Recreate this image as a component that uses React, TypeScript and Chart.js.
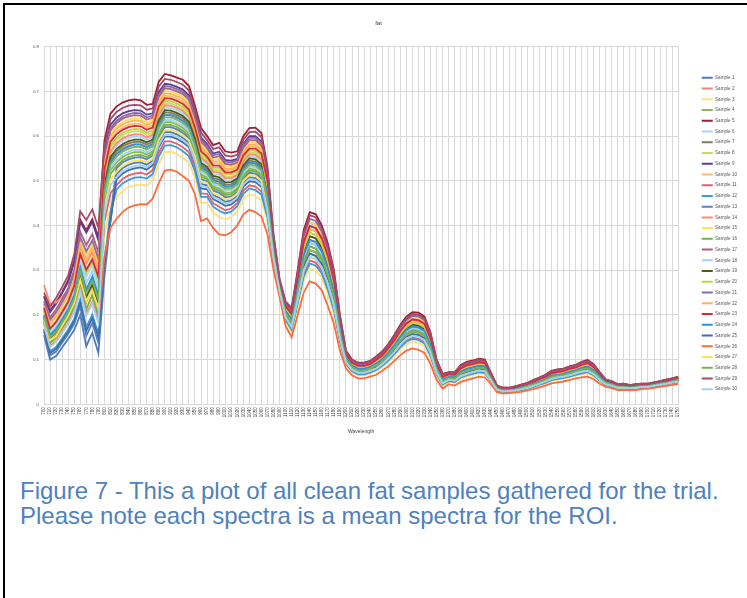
import React, { useEffect, useRef } from 'react';
import { Chart, registerables } from 'chart.js';

Chart.register(...registerables);

const chartTitle = 'fat';
const xAxisTitle = 'Wavelength';
const captionLines = [
  'Figure 7 - This a plot of all clean fat samples gathered for the trial.',
  'Please note each spectra is a mean spectra for the ROI.',
];

const wavelengths = [
  '700','710','720','730','740','750','760','770','780','790',
  '800','810','820','830','840','850','860','870','880','890',
  '900','910','920','930','940','950','960','970','980','990',
  '1000','1010','1020','1030','1040','1050','1060','1070','1080','1090',
  '1100','1110','1120','1130','1140','1150','1160','1170','1180','1190',
  '1200','1210','1220','1230','1240','1250','1260','1270','1280','1290',
  '1300','1310','1320','1330','1340','1350','1360','1370','1380','1390',
  '1400','1410','1420','1430','1440','1450','1460','1470','1480','1490',
  '1500','1510','1520','1530','1540','1550','1560','1570','1580','1590',
  '1600','1610','1620','1630','1640','1650','1660','1670','1680','1690',
  '1700','1710','1720','1730','1740','1750',
];

const yMin = 0;
const yMax = 0.8;
const yStep = 0.1;

const sample1 = [.155,.100,.108,.127,.146,.166,.200,.130,.160,.115,
  .285,.41,.515,.528,.536,.540,.541,.536,.545,.586,.609,.609,.604,.596,.585,.549,.493,.490,.468,.462,.453,.456,.466,.495,.508,.506,.495,
  .448,.336,.258,.200,.180,.245,.313,.345,.340,.321,.283,.234,.156,.098,.081,.074,.074,.078,.085,.095,.108,.123,.141,.154,.162,.160,.152,.122,.076,.050,.058,.056,.067,.073,.076,.080,.078,.057,.034,.030,.031,.033,.035,.039,.043,.048,.053,.060,.063,.065,.068,.072,.076,.079,.072,.058,.047,.043,.038,.039,.037,.038,.040,.040,.043,.045,.048,.050,.053];
const sample2 = [.212,.171,.186,.208,.231,.267,.339,.299,.326,.283,
  .481,.543,.561,.572,.579,.582,.582,.576,.582,.626,.648,.647,.642,.635,.622,.584,.530,.521,.501,.498,.486,.487,.495,.525,.540,.538,.527,
  .470,.348,.264,.208,.189,.260,.334,.368,.363,.342,.304,.252,.168,.104,.086,.079,.079,.083,.091,.101,.115,.132,.151,.166,.174,.172,.164,.132,.082,.055,.061,.060,.073,.079,.082,.086,.084,.060,.036,.032,.032,.034,.038,.041,.046,.051,.056,.064,.066,.068,.073,.076,.081,.084,.076,.062,.049,.046,.040,.040,.038,.040,.041,.042,.044,.047,.049,.052,.055];
const sample3 = [.184,.135,.147,.168,.189,.217,.270,.215,.243,.199,
  .379,.443,.463,.477,.486,.490,.492,.489,.500,.538,.564,.565,.560,.551,.540,.508,.450,.451,.429,.419,.414,.419,.432,.458,.470,.466,.456,
  .409,.315,.248,.185,.162,.219,.277,.304,.299,.283,.247,.203,.135,.088,.072,.065,.065,.069,.074,.083,.095,.108,.123,.134,.140,.138,.130,.103,.064,.041,.050,.048,.057,.062,.066,.070,.068,.050,.030,.026,.027,.029,.031,.034,.038,.042,.047,.052,.055,.057,.060,.064,.067,.069,.062,.051,.042,.039,.034,.035,.033,.034,.036,.037,.039,.041,.044,.046,.048];
const sample4 = [.193,.147,.160,.181,.203,.234,.293,.243,.270,.227,
  .460,.523,.541,.553,.560,.564,.564,.559,.566,.609,.631,.631,.626,.618,.606,.569,.514,.508,.487,.483,.472,.474,.483,.513,.527,.525,.514,
  .448,.336,.258,.200,.180,.245,.313,.345,.340,.321,.283,.234,.156,.098,.081,.074,.074,.078,.085,.095,.108,.123,.141,.154,.162,.160,.152,.122,.076,.050,.058,.056,.067,.073,.076,.080,.078,.057,.034,.030,.031,.033,.035,.039,.043,.048,.053,.060,.063,.065,.068,.072,.076,.079,.072,.058,.047,.043,.038,.039,.037,.038,.040,.040,.043,.045,.048,.050,.053];
const sample5 = [.242,.209,.228,.251,.277,.321,.413,.389,.414,.373,
  .590,.650,.666,.675,.680,.682,.680,.670,.672,.722,.739,.736,.731,.726,.712,.668,.618,.600,.580,.585,.566,.563,.566,.600,.618,.619,.607,
  .530,.380,.280,.230,.215,.300,.390,.430,.425,.400,.360,.300,.200,.120,.100,.093,.093,.097,.107,.118,.135,.155,.178,.196,.206,.205,.196,.160,.100,.068,.072,.072,.088,.095,.098,.102,.100,.070,.042,.037,.037,.040,.044,.048,.054,.060,.066,.075,.078,.080,.085,.088,.095,.099,.090,.072,.056,.052,.045,.046,.043,.045,.046,.046,.049,.052,.055,.058,.062];
const sample6 = [.207,.165,.180,.201,.224,.259,.328,.285,.312,.269,
  .499,.561,.579,.590,.596,.599,.599,.592,.598,.643,.664,.663,.658,.651,.638,.599,.546,.536,.515,.514,.501,.501,.508,.539,.554,.553,.542,
  .485,.356,.268,.214,.196,.270,.348,.384,.379,.357,.318,.264,.176,.108,.090,.083,.083,.087,.095,.105,.120,.138,.158,.173,.182,.180,.172,.139,.087,.058,.064,.063,.077,.083,.086,.090,.088,.063,.038,.033,.033,.036,.039,.043,.048,.053,.059,.067,.069,.071,.076,.079,.085,.088,.080,.064,.051,.047,.041,.042,.039,.041,.042,.043,.045,.048,.051,.054,.057];
const sample7 = [.198,.153,.167,.188,.210,.242,.304,.257,.284,.241,
  .486,.548,.566,.577,.584,.587,.587,.581,.587,.631,.653,.652,.647,.640,.627,.589,.535,.526,.506,.503,.491,.492,.500,.530,.545,.543,.532,
  .463,.344,.262,.206,.186,.255,.327,.361,.356,.335,.297,.246,.164,.102,.085,.078,.078,.082,.089,.099,.113,.129,.148,.162,.170,.168,.160,.129,.080,.054,.060,.059,.071,.077,.080,.084,.082,.059,.036,.032,.032,.034,.037,.041,.045,.050,.055,.063,.065,.067,.072,.075,.080,.083,.075,.061,.049,.045,.040,.040,.038,.040,.041,.042,.044,.047,.049,.052,.055];
const sample8 = [.214,.173,.188,.210,.233,.269,.342,.297,.328,.281,
  .512,.574,.591,.602,.608,.611,.610,.603,.608,.654,.674,.673,.668,.661,.648,.609,.556,.545,.524,.524,.510,.510,.516,.548,.563,.562,.551,
  .493,.360,.270,.217,.199,.275,.355,.392,.387,.364,.325,.270,.180,.110,.092,.085,.085,.089,.097,.107,.123,.141,.161,.177,.186,.184,.176,.143,.089,.060,.066,.065,.079,.085,.088,.092,.090,.064,.039,.034,.034,.037,.040,.044,.049,.055,.060,.068,.071,.073,.078,.081,.087,.090,.082,.066,.052,.048,.042,.043,.040,.042,.043,.044,.046,.049,.052,.055,.058];
const sample9 = [.241,.206,.225,.249,.274,.318,.409,.384,.408,.367,
  .564,.625,.641,.651,.656,.658,.657,.648,.651,.699,.717,.715,.710,.704,.691,.648,.597,.582,.561,.565,.547,.545,.549,.583,.600,.600,.588,
  .508,.368,.274,.222,.206,.285,.369,.407,.402,.379,.339,.282,.188,.114,.095,.088,.088,.092,.101,.112,.128,.146,.168,.185,.194,.193,.184,.150,.094,.063,.068,.068,.082,.089,.092,.096,.094,.067,.040,.035,.036,.038,.042,.046,.051,.057,.063,.071,.074,.076,.081,.084,.090,.094,.085,.068,.054,.050,.043,.044,.042,.043,.045,.045,.048,.050,.053,.056,.060];
const sample10 = [.222,.183,.199,.222,.245,.284,.362,.327,.353,.311,
  .530,.592,.609,.619,.625,.628,.627,.619,.624,.671,.690,.689,.684,.677,.664,.624,.571,.559,.539,.539,.524,.524,.530,.562,.577,.577,.566,
  .493,.360,.270,.217,.199,.275,.355,.392,.387,.364,.325,.270,.180,.110,.092,.085,.085,.089,.097,.107,.123,.141,.161,.177,.186,.184,.176,.143,.089,.060,.066,.065,.079,.085,.088,.092,.090,.064,.039,.034,.034,.037,.040,.044,.049,.055,.060,.068,.071,.073,.078,.081,.087,.090,.082,.066,.052,.048,.042,.043,.040,.042,.043,.044,.046,.049,.052,.055,.058];
const sample11 = [.188,.141,.154,.174,.196,.225,.281,.229,.257,.213,
  .408,.472,.490,.504,.512,.516,.518,.514,.524,.563,.588,.588,.583,.575,.564,.529,.472,.471,.450,.442,.434,.438,.450,.478,.490,.487,.476,
  .425,.324,.252,.192,.170,.230,.292,.322,.317,.299,.262,.216,.144,.092,.076,.069,.069,.073,.078,.088,.100,.114,.130,.143,.149,.147,.139,.111,.069,.045,.053,.051,.061,.066,.070,.074,.072,.053,.032,.028,.029,.030,.033,.036,.040,.045,.049,.055,.058,.060,.063,.067,.071,.073,.066,.054,.044,.041,.036,.036,.035,.036,.038,.038,.041,.043,.045,.048,.050];
const sample12 = [.169,.118,.128,.147,.167,.191,.235,.172,.201,.157,
  .32,.43,.480,.494,.502,.507,.508,.505,.515,.554,.579,.580,.575,.566,.555,.521,.464,.464,.442,.433,.427,.431,.443,.471,.483,.479,.469,
  .419,.321,.250,.189,.167,.226,.286,.315,.310,.293,.256,.211,.141,.090,.074,.067,.067,.071,.077,.086,.098,.112,.128,.140,.146,.144,.136,.108,.067,.044,.052,.050,.060,.065,.068,.072,.070,.052,.031,.027,.028,.030,.032,.035,.039,.044,.048,.054,.057,.059,.062,.066,.069,.072,.065,.053,.043,.040,.035,.036,.034,.035,.037,.038,.040,.042,.045,.047,.049];
const sample13 = [.163,.109,.118,.138,.157,.180,.219,.153,.182,.137,
  .30,.42,.528,.541,.548,.552,.553,.548,.556,.598,.620,.620,.615,.607,.596,.559,.504,.499,.478,.473,.463,.465,.475,.504,.518,.516,.505,
  .455,.340,.260,.203,.183,.250,.320,.353,.348,.328,.290,.240,.160,.100,.083,.076,.076,.080,.087,.097,.110,.126,.144,.158,.166,.164,.156,.125,.078,.052,.059,.057,.069,.075,.078,.082,.080,.058,.035,.031,.031,.033,.036,.040,.044,.049,.054,.061,.064,.066,.070,.073,.078,.081,.073,.059,.048,.044,.039,.039,.037,.039,.040,.041,.043,.046,.048,.051,.054];
const sample14 = [.267,.225,.228,.240,.255,.285,.355,.315,.340,.300,
  .504,.566,.584,.595,.601,.604,.604,.597,.603,.648,.669,.668,.663,.656,.643,.604,.551,.541,.520,.519,.506,.506,.513,.544,.559,.558,.547,
  .478,.352,.266,.211,.193,.265,.341,.376,.371,.350,.311,.258,.172,.106,.088,.081,.081,.085,.093,.103,.118,.135,.155,.170,.178,.176,.168,.136,.085,.057,.063,.062,.075,.081,.084,.088,.086,.062,.037,.033,.033,.035,.039,.042,.047,.052,.058,.066,.068,.070,.075,.078,.083,.086,.078,.063,.050,.047,.041,.041,.039,.041,.042,.043,.045,.048,.050,.053,.056];
const sample15 = [.223,.185,.202,.224,.248,.288,.367,.333,.359,.317,
  .543,.604,.621,.631,.637,.640,.639,.630,.635,.682,.701,.699,.694,.688,.675,.633,.581,.568,.548,.549,.533,.532,.538,.570,.586,.586,.575,
  .508,.368,.274,.222,.206,.285,.369,.407,.402,.379,.339,.282,.188,.114,.095,.088,.088,.092,.101,.112,.128,.146,.168,.185,.194,.193,.184,.150,.094,.063,.068,.068,.082,.089,.092,.096,.094,.067,.040,.035,.036,.038,.042,.046,.051,.057,.063,.071,.074,.076,.081,.084,.090,.094,.085,.068,.054,.050,.043,.044,.042,.043,.045,.045,.048,.050,.053,.056,.060];
const sample16 = [.186,.137,.149,.170,.190,.219,.272,.212,.245,.196,
  .452,.515,.533,.546,.553,.557,.558,.553,.561,.603,.625,.625,.620,.612,.601,.564,.509,.504,.483,.478,.468,.470,.480,.509,.523,.521,.510,
  .440,.332,.256,.197,.176,.240,.306,.337,.332,.313,.276,.228,.152,.096,.079,.072,.072,.076,.082,.092,.105,.120,.137,.150,.157,.155,.147,.118,.073,.048,.056,.054,.065,.070,.074,.078,.076,.055,.033,.029,.030,.032,.034,.038,.042,.047,.052,.058,.061,.063,.066,.070,.074,.077,.070,.056,.046,.042,.037,.038,.036,.037,.039,.039,.042,.044,.047,.049,.052];
const sample17 = [.231,.194,.212,.235,.260,.301,.386,.356,.381,.339,
  .551,.612,.629,.639,.644,.647,.646,.637,.641,.688,.707,.705,.700,.694,.681,.638,.587,.573,.552,.555,.538,.536,.541,.574,.591,.591,.579,
  .500,.364,.272,.219,.202,.280,.362,.399,.394,.371,.332,.276,.184,.112,.093,.086,.086,.090,.099,.109,.125,.143,.164,.181,.190,.188,.180,.146,.091,.061,.067,.066,.080,.087,.090,.094,.092,.065,.039,.034,.035,.037,.041,.045,.050,.056,.061,.069,.072,.074,.079,.082,.088,.092,.083,.067,.053,.049,.042,.043,.041,.042,.044,.044,.047,.049,.052,.055,.059];
const sample18 = [.203,.159,.173,.195,.217,.251,.316,.271,.298,.255,
  .465,.528,.546,.558,.565,.569,.569,.564,.571,.614,.636,.636,.631,.623,.611,.574,.519,.513,.492,.488,.477,.479,.488,.518,.532,.530,.519,
  .463,.344,.262,.206,.186,.255,.327,.361,.356,.335,.297,.246,.164,.102,.085,.078,.078,.082,.089,.099,.113,.129,.148,.162,.170,.168,.160,.129,.080,.054,.060,.059,.071,.077,.080,.084,.082,.059,.036,.032,.032,.034,.037,.041,.045,.050,.055,.063,.065,.067,.072,.075,.080,.083,.075,.061,.049,.045,.040,.040,.038,.040,.041,.042,.044,.047,.049,.052,.055];
const sample19 = [.195,.149,.162,.183,.205,.232,.290,.240,.268,.225,
  .491,.553,.571,.582,.589,.592,.592,.586,.592,.636,.658,.657,.652,.645,.632,.594,.540,.531,.511,.508,.496,.497,.505,.535,.550,.548,.537,
  .478,.352,.266,.211,.193,.265,.341,.376,.371,.350,.311,.258,.172,.106,.088,.081,.081,.085,.093,.103,.118,.135,.155,.170,.178,.176,.168,.136,.085,.057,.063,.062,.075,.081,.084,.088,.086,.062,.037,.033,.033,.035,.039,.042,.047,.052,.058,.066,.068,.070,.075,.078,.083,.086,.078,.063,.050,.047,.041,.041,.039,.041,.042,.043,.045,.048,.050,.053,.056];
const sample20 = [.210,.168,.183,.205,.228,.264,.335,.294,.320,.277,
  .517,.579,.596,.607,.613,.616,.615,.608,.613,.659,.679,.678,.673,.666,.653,.614,.561,.550,.529,.529,.515,.515,.521,.553,.568,.567,.556,
  .485,.356,.268,.214,.196,.270,.348,.384,.379,.357,.318,.264,.176,.108,.090,.083,.083,.087,.095,.105,.120,.138,.158,.173,.182,.180,.172,.139,.087,.058,.064,.063,.077,.083,.086,.090,.088,.063,.038,.033,.033,.036,.039,.043,.048,.053,.059,.067,.069,.071,.076,.079,.085,.088,.080,.064,.051,.047,.041,.042,.039,.041,.042,.043,.045,.048,.051,.054,.057];
const sample21 = [.226,.189,.206,.228,.253,.293,.374,.342,.367,.325,
  .556,.617,.634,.644,.649,.652,.651,.642,.646,.693,.712,.710,.705,.699,.686,.643,.592,.578,.557,.560,.543,.541,.546,.579,.596,.596,.584,
  .515,.372,.276,.225,.209,.290,.376,.415,.410,.386,.346,.288,.192,.116,.097,.090,.090,.094,.103,.114,.130,.149,.171,.188,.198,.197,.188,.153,.096,.065,.069,.069,.084,.091,.094,.098,.096,.068,.041,.036,.036,.039,.042,.046,.052,.058,.064,.072,.075,.077,.082,.085,.092,.095,.087,.069,.054,.050,.044,.045,.042,.044,.045,.045,.048,.051,.054,.057,.060];
const sample22 = [.220,.180,.196,.219,.243,.281,.358,.322,.348,.305,
  .538,.599,.616,.626,.632,.635,.634,.625,.630,.677,.696,.694,.689,.683,.670,.628,.576,.563,.543,.544,.528,.527,.533,.565,.581,.581,.570,
  .493,.360,.270,.217,.199,.275,.355,.392,.387,.364,.325,.270,.180,.110,.092,.085,.085,.089,.097,.107,.123,.141,.161,.177,.186,.184,.176,.143,.089,.060,.066,.065,.079,.085,.088,.092,.090,.064,.039,.034,.034,.037,.040,.044,.049,.055,.060,.068,.071,.073,.078,.081,.087,.090,.082,.066,.052,.048,.042,.043,.040,.042,.043,.044,.046,.049,.052,.055,.058];
const sample23 = [.216,.169,.184,.206,.229,.265,.336,.301,.324,.285,
  .525,.587,.604,.614,.620,.623,.622,.614,.619,.666,.685,.684,.679,.672,.659,.619,.566,.554,.534,.534,.519,.519,.525,.557,.572,.572,.561,
  .500,.364,.272,.219,.202,.280,.362,.399,.394,.371,.332,.276,.184,.112,.093,.086,.086,.090,.099,.109,.125,.143,.164,.181,.190,.188,.180,.146,.091,.061,.067,.066,.080,.087,.090,.094,.092,.065,.039,.034,.035,.037,.041,.045,.050,.056,.061,.069,.072,.074,.079,.082,.088,.092,.083,.067,.053,.049,.042,.043,.041,.042,.044,.044,.047,.049,.052,.055,.059];
const sample24 = [.200,.155,.169,.190,.212,.244,.306,.255,.286,.243,
  .478,.541,.559,.570,.577,.581,.581,.575,.582,.625,.647,.647,.642,.634,.622,.584,.530,.522,.502,.498,.487,.488,.497,.527,.541,.539,.528,
  .470,.348,.264,.208,.189,.260,.334,.368,.363,.342,.304,.252,.168,.104,.086,.079,.079,.083,.091,.101,.115,.132,.151,.166,.174,.172,.164,.132,.082,.055,.061,.060,.073,.079,.082,.086,.084,.060,.036,.032,.032,.034,.038,.041,.046,.051,.056,.064,.066,.068,.073,.076,.081,.084,.076,.062,.049,.046,.040,.040,.038,.040,.041,.042,.044,.047,.049,.052,.055];
const sample25 = [.166,.114,.124,.143,.163,.186,.228,.164,.193,.149,
  .31,.41,.503,.516,.524,.528,.530,.525,.535,.575,.599,.599,.594,.586,.575,.539,.483,.481,.459,.452,.444,.447,.458,.487,.499,.497,.486,
  .440,.332,.256,.197,.176,.240,.306,.337,.332,.313,.276,.228,.152,.096,.079,.072,.072,.076,.082,.092,.105,.120,.137,.150,.157,.155,.147,.118,.073,.048,.056,.054,.065,.070,.074,.078,.076,.055,.033,.029,.030,.032,.034,.038,.042,.047,.052,.058,.061,.063,.066,.070,.074,.077,.070,.056,.046,.042,.037,.038,.036,.037,.039,.039,.042,.044,.047,.049,.052];
const sample26 = [.179,.130,.141,.161,.182,.208,.258,.201,.229,.185,
  .330,.395,.415,.430,.440,.445,.448,.447,.460,.495,.523,.525,.520,.510,.500,.470,.410,.416,.394,.380,.378,.385,.400,.425,.435,.430,.420,
  .380,.300,.240,.175,.150,.200,.250,.275,.270,.255,.220,.180,.120,.080,.065,.058,.058,.062,.066,.075,.085,.097,.110,.120,.125,.122,.115,.090,.055,.035,.045,.042,.050,.054,.058,.062,.060,.045,.027,.024,.025,.026,.028,.031,.034,.038,.042,.047,.049,.051,.054,.058,.060,.062,.056,.046,.039,.036,.032,.032,.031,.032,.034,.035,.037,.039,.041,.043,.045];
const sample27 = [.190,.143,.152,.176,.198,.227,.279,.231,.255,.215,
  .439,.502,.520,.533,.541,.545,.546,.541,.550,.591,.614,.614,.609,.601,.590,.554,.498,.495,.473,.467,.458,.461,.471,.500,.513,.511,.500,
  .433,.328,.254,.195,.173,.235,.299,.330,.325,.306,.269,.222,.148,.094,.078,.071,.071,.075,.080,.090,.103,.117,.134,.147,.153,.151,.143,.115,.071,.047,.055,.053,.063,.068,.072,.076,.074,.054,.033,.029,.030,.031,.034,.037,.041,.046,.051,.057,.060,.062,.065,.069,.073,.075,.068,.055,.045,.042,.037,.037,.036,.037,.039,.039,.042,.044,.046,.049,.051];
const sample28 = [.195,.150,.163,.184,.206,.237,.297,.248,.276,.233,
  .473,.536,.554,.565,.572,.576,.576,.570,.577,.620,.642,.642,.637,.629,.617,.579,.525,.517,.497,.493,.482,.483,.492,.522,.536,.534,.523,
  .455,.340,.260,.203,.183,.250,.320,.353,.348,.328,.290,.240,.160,.100,.083,.076,.076,.080,.087,.097,.110,.126,.144,.158,.166,.164,.156,.125,.078,.052,.059,.057,.069,.075,.078,.082,.080,.058,.035,.031,.031,.033,.036,.040,.044,.049,.054,.061,.064,.066,.070,.073,.078,.081,.073,.059,.048,.044,.039,.039,.037,.039,.040,.041,.043,.046,.048,.051,.054];
const sample29 = [.250,.218,.238,.262,.288,.335,.432,.412,.436,.395,
  .577,.638,.654,.663,.668,.670,.669,.659,.662,.711,.728,.726,.721,.715,.702,.658,.608,.591,.571,.575,.557,.554,.558,.592,.609,.610,.598,
  .523,.376,.278,.228,.212,.295,.383,.423,.418,.393,.353,.294,.196,.118,.099,.092,.092,.096,.105,.116,.133,.152,.175,.192,.202,.201,.192,.157,.098,.067,.071,.071,.086,.093,.096,.100,.098,.069,.042,.037,.037,.040,.043,.047,.053,.059,.065,.074,.077,.079,.084,.087,.094,.097,.089,.071,.055,.051,.045,.046,.043,.045,.046,.046,.049,.052,.055,.058,.061];
const sample30 = [.176,.128,.140,.160,.180,.206,.255,.198,.226,.182,
  .426,.490,.508,.521,.529,.533,.535,.530,.540,.580,.604,.604,.599,.591,.580,.544,.488,.486,.464,.457,.449,.452,.463,.492,.504,.502,.491,
  .433,.328,.254,.195,.173,.235,.299,.330,.325,.306,.269,.222,.148,.094,.078,.071,.071,.075,.080,.090,.103,.117,.134,.147,.153,.151,.143,.115,.071,.047,.055,.053,.063,.068,.072,.076,.074,.054,.033,.029,.030,.031,.034,.037,.041,.046,.051,.057,.060,.062,.065,.069,.073,.075,.068,.055,.045,.042,.037,.037,.036,.037,.039,.039,.042,.044,.046,.049,.051];

const sampleNames = [
  'Sample 1','Sample 2','Sample 3','Sample 4','Sample 5','Sample 6','Sample 7','Sample 8','Sample 9','Sample 10',
  'Sample 11','Sample 12','Sample 13','Sample 14','Sample 15','Sample 16','Sample 17','Sample 18','Sample 19','Sample 20',
  'Sample 21','Sample 22','Sample 23','Sample 24','Sample 25','Sample 26','Sample 27','Sample 28','Sample 29','Sample 30',
];

const sampleColors = [
  '#4A7EBB','#F4866A','#FFE17A','#8DB84E','#9E1F36','#A9D5F5','#7A7F58','#C5DC6A','#5E3D8F','#FFB870',
  '#E2606A','#3A9AE0','#5A82B8','#FF8A6A','#FFDD55','#6FB24A','#B2607A','#9FD2F5','#4D5A1E','#BDD63A',
  '#8B6BB0','#FFB35C','#D8283E','#2E90DE','#3F6FAA','#FF6A3A','#FFE060','#79B352','#A44A68','#A2CFF2',
];

const allSamples = [
  sample1, sample2, sample3, sample4, sample5, sample6, sample7, sample8, sample9, sample10,
  sample11, sample12, sample13, sample14, sample15, sample16, sample17, sample18, sample19, sample20,
  sample21, sample22, sample23, sample24, sample25, sample26, sample27, sample28, sample29, sample30,
];

const FONT = '"Liberation Sans", Arial, sans-serif';

function SpectraChart() {
  const ref = useRef<HTMLCanvasElement | null>(null);
  useEffect(() => {
    if (!ref.current) return;
    const n = allSamples.length;
    const chart = new Chart(ref.current, {
      type: 'line',
      data: {
        labels: wavelengths,
        datasets: allSamples.map((d, i) => ({
          label: sampleNames[i],
          data: d,
          borderColor: sampleColors[i],
          backgroundColor: sampleColors[i],
          borderWidth: 1.8,
          pointRadius: 0,
          pointHoverRadius: 0,
          tension: 0,
          fill: false,
          order: n - 1 - i,
        })),
      },
      options: {
        animation: false,
        responsive: false,
        layout: { padding: 0 },
        events: [],
        plugins: {
          title: {
            display: true,
            text: chartTitle,
            color: '#404040',
            font: { family: FONT, size: 6, weight: 'normal' },
            padding: { top: 11.4, bottom: 20.1 },
          },
          legend: {
            position: 'right',
            labels: {
              boxWidth: 11,
              boxHeight: 2,
              padding: 6.14,
              color: '#595959',
              font: { family: FONT, size: 4.6 },
              sort: (a: any, b: any) => a.datasetIndex - b.datasetIndex,
              generateLabels: (c: any) =>
                (Chart.defaults.plugins.legend.labels.generateLabels as any)(c).map((l: any) => ({
                  ...l,
                  lineWidth: 0,
                  fillStyle: l.strokeStyle,
                })),
            },
          },
          tooltip: { enabled: false },
        },
        scales: {
          x: {
            type: 'category',
            offset: false,
            grid: { color: '#d9d9d9', lineWidth: 1, drawTicks: false },
            border: { color: '#d9d9d9' },
            ticks: {
              autoSkip: false,
              minRotation: 90,
              maxRotation: 90,
              padding: 3,
              color: '#404040',
              font: { family: FONT, size: 4.5 },
            },
            title: {
              display: true,
              text: xAxisTitle,
              color: '#404040',
              font: { family: FONT, size: 5 },
              padding: { top: 0, bottom: 24 },
            },
            afterFit: (s: any) => { s.height = 54.7; },
          },
          y: {
            min: yMin,
            max: yMax,
            grid: { color: '#d9d9d9', lineWidth: 1, drawTicks: false },
            border: { color: '#d9d9d9' },
            ticks: {
              stepSize: yStep,
              padding: 5,
              color: '#595959',
              font: { family: FONT, size: 4.4 },
            },
            afterFit: (s: any) => { s.width = 34; },
          },
          yR: {
            position: 'right',
            display: true,
            grid: { display: false },
            border: { display: false },
            ticks: { display: false },
            afterFit: (s: any) => { s.width = 17.4; },
          },
        },
      } as any,
    });
    return () => chart.destroy();
  }, []);
  return <canvas ref={ref} width={737} height={451} style={{ position: 'absolute', left: 10, top: 8, width: 737, height: 451 }} />;
}

export default function App() {
  return (
    <div style={{ position: 'absolute', left: 0, top: 0, width: 747, height: 598, background: '#ffffff', overflow: 'hidden' }}>
      <div style={{ position: 'absolute', left: 3, top: 3, width: 744, height: 595, borderTop: '2px solid #000', borderLeft: '2px solid #000', boxSizing: 'border-box' }} />
      <SpectraChart />
      <div style={{ position: 'absolute', left: 20, top: 478, fontFamily: FONT, fontSize: 24, lineHeight: '25px', color: '#4F81BD', whiteSpace: 'nowrap' }}>
        {captionLines.map((t, i) => <div key={i}>{t}</div>)}
      </div>
    </div>
  );
}
